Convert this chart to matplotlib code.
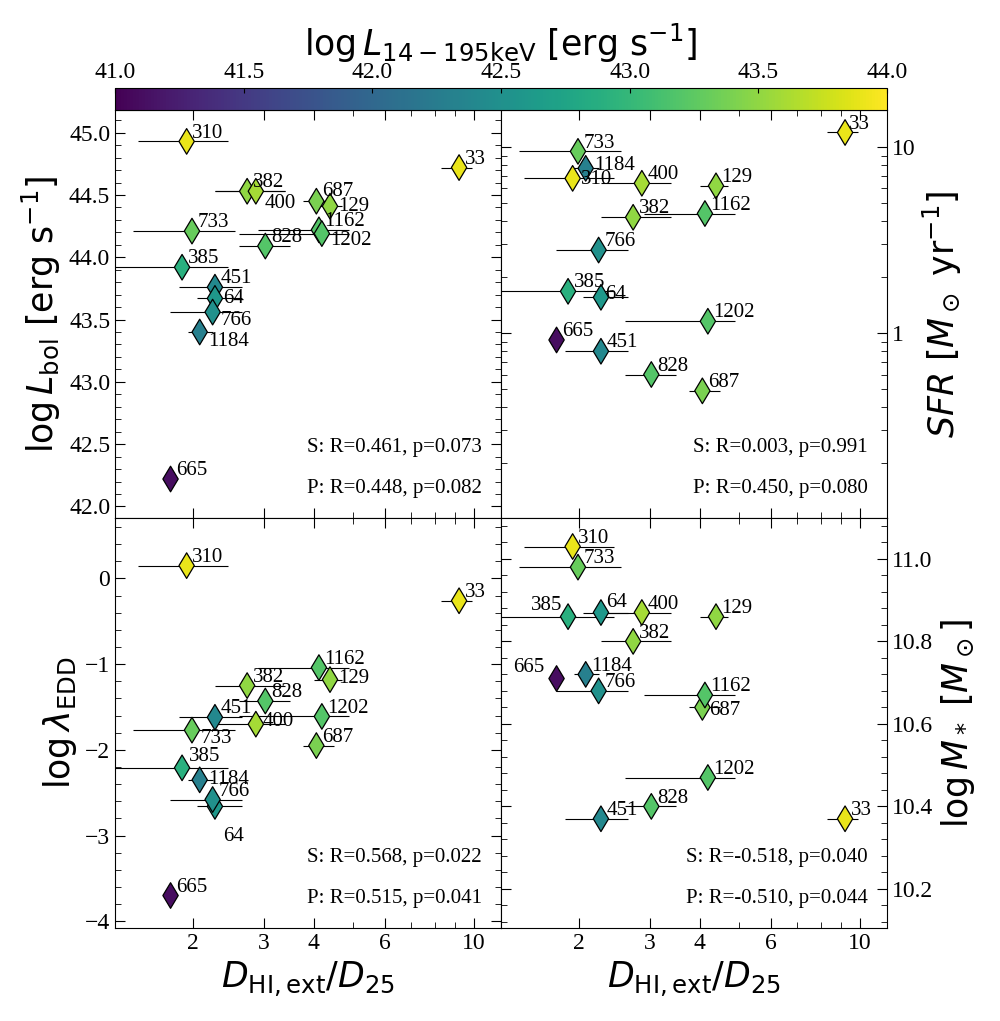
import numpy as np
import matplotlib
matplotlib.use("Agg")
import matplotlib.pyplot as plt
from matplotlib.ticker import FixedLocator, FuncFormatter, NullFormatter, MultipleLocator

names = ['310','33','382','400','687','129','733','1162','1202','828','385','451','64','766','1184','665']
dhi   = [1.93, 9.2, 2.73, 2.87, 4.06, 4.39, 1.99, 4.12, 4.19, 3.03, 1.88, 2.27, 2.27, 2.24, 2.08, 1.76]
x_lo  = [1.46, 8.3, 2.27, 2.27, 3.75, 4.0, 1.42, 2.9, 2.6, 2.6, 1.28, 1.85, 2.05, 1.75, 1.95, 1.76]
x_hi  = [2.45, 9.9, 3.4, 3.4, 4.48, 4.7, 2.55, 4.9, 4.9, 3.5, 2.45, 2.65, 2.65, 2.65, 2.25, 1.76]
lbat  = [43.9, 43.9, 43.5, 43.6, 43.4, 43.5, 43.3, 43.2, 43.2, 43.2, 42.9, 42.4, 42.6, 42.5, 42.3, 41.1]
lbol  = [44.93, 44.72, 44.53, 44.53, 44.45, 44.41, 44.21, 44.22, 44.19, 44.09, 43.92, 43.76, 43.67, 43.56, 43.40, 42.22]
sfr   = [6.8, 12.0, 4.2, 6.4, 0.49, 6.2, 9.5, 4.4, 1.16, 0.60, 1.68, 0.80, 1.56, 2.8, 7.7, 0.92]
ledd  = [0.15, -0.26, -1.25, -1.70, -1.95, -1.18, -1.77, -1.04, -1.61, -1.43, -2.21, -1.62, -2.66, -2.58, -2.35, -3.70]
mstar = [11.03, 10.37, 10.80, 10.87, 10.64, 10.86, 10.98, 10.67, 10.47, 10.40, 10.86, 10.37, 10.87, 10.68, 10.72, 10.71]
stats = [("S: R=0.461, p=0.073", "P: R=0.448, p=0.082"),
         ("S: R=0.003, p=0.991", "P: R=0.450, p=0.080"),
         ("S: R=0.568, p=0.022", "P: R=0.515, p=0.041"),
         ("S: R=-0.518, p=0.040", "P: R=-0.510, p=0.044")]

serif = 'Liberation Serif'
fig = plt.figure(figsize=(10, 10.21), dpi=100)
L, R = 0.115, 0.887
mid = (L + R) / 2
top, midy, bot = 0.892, 0.493, 0.091
axes = [fig.add_axes([L, midy, mid - L, top - midy]),
        fig.add_axes([mid, midy, R - mid, top - midy]),
        fig.add_axes([L, bot, mid - L, midy - bot]),
        fig.add_axes([mid, bot, R - mid, midy - bot])]
cax = fig.add_axes([L, 0.892, R - L, 0.022])

ys = [lbol, sfr, ledd, mstar]
ylims = [(41.91, 45.18), (0.102, 15.8), (-4.08, 0.71), (10.105, 11.10)]
cmap = plt.get_cmap('viridis')
norm = matplotlib.colors.Normalize(41, 44)

D = (1, 6)
offsets = {
    0: {'400': (3, -9), '1202': (3, -5), '129': (3, 0), '1184': (3, -7), '766': (3, -6), '64': (3, 0), '687': (1, 7)},
    1: {'1184': (3, 2), '310': (3, -1), '64': (0, 2), '33': (0, 6)},
    2: {'733': (3, -6), '64': (3, -22), '1184': (3, 0), '400': (2, 2), '129': (3, 1), '385': (2, 8)},
    3: {'385': (-30, 8), '665': (-34, 8), '687': (2, -2), '64': (1, 7)},
}

for i, ax in enumerate(axes):
    y = ys[i]
    xerr = [np.array(dhi) - np.array(x_lo), np.array(x_hi) - np.array(dhi)]
    ax.errorbar(dhi, y, xerr=xerr, fmt='none', ecolor='black', elinewidth=0.8, zorder=1)
    ax.scatter(dhi, y, c=lbat, cmap=cmap, norm=norm, marker='d', s=170,
               edgecolors='black', linewidths=0.9, zorder=3)
    for n, xv, yv in zip(names, dhi, y):
        off = offsets.get(i, {}).get(n, D)
        ax.annotate(n, (xv, yv), xytext=(off[0] + 3, off[1]), textcoords='offset points',
                    fontsize=15, family=serif, va='center', ha='left')
    ax.set_xscale('log')
    ax.set_xlim(1.28, 11.7)
    ax.set_ylim(*ylims[i])
    if i == 1:
        ax.set_yscale('log')
        ax.yaxis.set_major_formatter(FuncFormatter(lambda v, p: f"{v:g}"))
        ax.yaxis.set_minor_formatter(NullFormatter())
    ax.xaxis.set_major_locator(FixedLocator([2, 3, 4, 6, 10]))
    ax.xaxis.set_major_formatter(FuncFormatter(lambda v, p: f"{v:g}"))
    ax.xaxis.set_minor_formatter(NullFormatter())
    if i < 2:
        ax.tick_params(labelbottom=False)
    if i % 2 == 1:
        ax.tick_params(labelleft=False, labelright=True)
        ax.yaxis.set_label_position('right')
    ax.text(0.95, 0.16, stats[i][0], transform=ax.transAxes, ha='right', fontsize=15, family=serif)
    ax.text(0.95, 0.06, stats[i][1], transform=ax.transAxes, ha='right', fontsize=15, family=serif)

axes[0].set_yticks([42.0, 42.5, 43.0, 43.5, 44.0, 44.5, 45.0])
axes[0].yaxis.set_minor_locator(MultipleLocator(0.1))
axes[0].yaxis.set_major_formatter(FuncFormatter(lambda v, p: f"{v:.1f}"))
axes[2].set_yticks([0, -1, -2, -3, -4])
axes[2].yaxis.set_minor_locator(MultipleLocator(0.2))
axes[3].set_yticks([10.2, 10.4, 10.6, 10.8, 11.0])
axes[3].yaxis.set_minor_locator(MultipleLocator(0.04))
axes[3].yaxis.set_major_formatter(FuncFormatter(lambda v, p: f"{v:.1f}"))
for ax in axes:
    ax.tick_params(which='both', direction='in', top=True, right=True, left=True, labelsize=17)
    ax.tick_params(which='major', length=7)
    ax.tick_params(which='minor', length=4)
    for lab in ax.get_xticklabels() + ax.get_yticklabels():
        lab.set_family(serif)

axes[0].set_ylabel(r'$\log L_{\rm bol}$ [erg s$^{-1}$]', fontsize=25)
axes[1].set_ylabel(r'$SFR$ [$M_\odot$ yr$^{-1}$]', fontsize=25)
axes[2].set_ylabel(r'$\log \lambda_{\rm EDD}$', fontsize=25)
axes[3].set_ylabel(r'$\log M_*$ [$M_\odot$]', fontsize=25)
axes[2].set_xlabel(r'$D_{\rm HI,ext}/D_{25}$', fontsize=25)
axes[3].set_xlabel(r'$D_{\rm HI,ext}/D_{25}$', fontsize=25)

cb = fig.colorbar(matplotlib.cm.ScalarMappable(norm=norm, cmap=cmap), cax=cax, orientation='horizontal')
cax.xaxis.set_ticks_position('top')
cax.xaxis.set_label_position('top')
cb.set_ticks([41.0, 41.5, 42.0, 42.5, 43.0, 43.5, 44.0])
cax.xaxis.set_major_formatter(FuncFormatter(lambda v, p: f"{v:.1f}"))
cax.tick_params(labelsize=17, direction='in')
for lab in cax.get_xticklabels():
    lab.set_family(serif)
cb.set_label(r'$\log L_{14-195{\rm keV}}$ [erg s$^{-1}$]', fontsize=25)

fig.savefig('out.png', dpi=100)
